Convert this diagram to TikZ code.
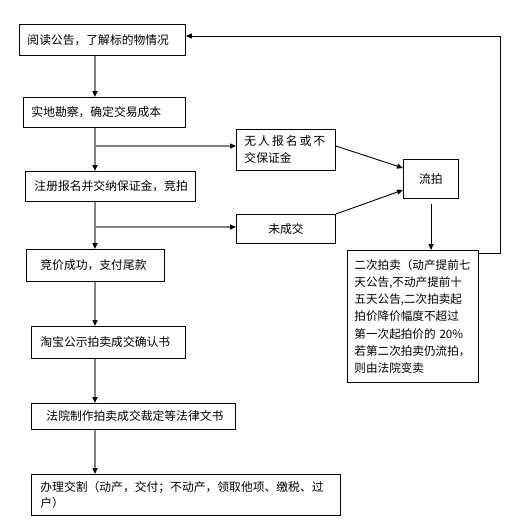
\documentclass[tikz,border=0pt]{standalone}
\usepackage{fontspec}
\setmainfont{Noto Sans CJK SC}
\usetikzlibrary{arrows.meta}
\begin{document}
\begin{tikzpicture}[x=1pt,y=-1pt,
  box/.style={draw=black,line width=0.9pt,anchor=north west,align=left,inner ysep=0pt,font=\fontsize{11.8}{16}\selectfont},
  tip/.style={-{Triangle[length=6pt,width=5pt,color=black]}},
  mainline/.style={tip,draw=gray,line width=1.8pt},
  branch/.style={tip,draw=gray,line width=1.3pt},
  thin/.style={tip,draw=black,line width=0.9pt}]
\useasboundingbox (0,0) rectangle (519,528);
\fill[white] (0,0) rectangle (519,528);

\node[box,minimum width=166pt,minimum height=31pt,inner xsep=8pt,text width=150pt] (b1) at (19,24) {阅读公告，了解标的物情况};
\node[box,minimum width=162pt,minimum height=30pt,inner xsep=8pt,text width=146pt] (b2) at (23,97) {实地勘察，确定交易成本};
\node[box,minimum width=170pt,minimum height=30pt,inner xsep=9pt,text width=152pt] (b3) at (25,171) {注册报名并交纳保证金，竞拍};
\node[box,minimum width=138pt,minimum height=32pt,inner xsep=14pt,text width=110pt] (b4) at (26,249) {竞价成功，支付尾款};
\node[box,minimum width=154pt,minimum height=32pt,inner xsep=9pt,text width=136pt] (b5) at (31,326) {淘宝公示拍卖成交确认书};
\node[box,minimum width=204pt,minimum height=26pt,inner xsep=15pt,text width=174pt] (b6) at (31,403) {法院制作拍卖成交裁定等法律文书};
\node[box,minimum width=309pt,minimum height=41pt,inner xsep=9pt,text width=291pt] (b7) at (31,474) {办理交割（动产，交付；不动产，领取他项、缴税、过\\户）};

\node[box,minimum width=99pt,minimum height=41pt,inner xsep=8pt,text width=83pt,font=\fontsize{11.8}{17}\selectfont] (n1) at (236,129) {无\hspace{2pt}人\hspace{2pt}报\hspace{2pt}名\hspace{2pt}或\hspace{2pt}不\\交保证金};
\node[box,minimum width=55pt,minimum height=39pt,inner xsep=0pt,text width=55pt,align=center] (n2) at (403,159) {流拍\\[8pt]};
\node[box,minimum width=99pt,minimum height=29pt,inner xsep=0pt,text width=99pt,align=center] (n3) at (236,214) {未成交};
\node[box,minimum width=131pt,minimum height=132pt,inner xsep=7pt,text width=117pt,font=\fontsize{11.6}{17.3}\selectfont] (n4) at (347,250) {二次拍卖（动产提前七\\天公告,不动产提前十\\五天公告,二次拍卖起\\拍价降价幅度不超过\\第一次起拍价的 20\%\\若第二次拍卖仍流拍，\\则由法院变卖};

\coordinate (j1) at (95,146);
\coordinate (j2) at (95,227);
\coordinate (fb1) at (500,253);
\coordinate (fb2) at (500,36);

\draw[mainline] (b1.south -| j1) -- (b2.north -| j1);
\draw[mainline] (b2.south -| j1) -- (b3.north -| j1);
\draw[mainline] (b3.south -| j1) -- (b4.north -| j1);
\draw[mainline] (b4.south -| j1) -- (b5.north -| j1);
\draw[mainline] (b5.south -| j1) -- (b6.north -| j1);
\draw[mainline] (b6.south -| j1) -- (b7.north -| j1);
\draw[branch] (j1) -- (n1.west |- j1);
\draw[branch] (j2) -- (n3.west |- j2);
\draw[thin] (n1.east |- j1) -- (403,168);
\draw[thin] (n3.north east) -- (403,190);
\draw[thin] ([yshift=-5pt]n2.south -| 431,0) -- (n4.north -| 431,0);
\draw[thin] (n4.east |- fb1) -- (fb1) -- (fb2) -- (b1.east |- fb2);
\end{tikzpicture}
\end{document}
